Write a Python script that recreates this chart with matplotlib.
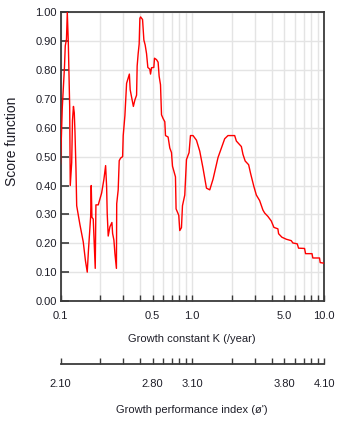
import matplotlib
matplotlib.use('Agg')
import matplotlib.pyplot as plt
from matplotlib.ticker import FixedLocator, FixedFormatter, NullFormatter

plt.rcParams['font.family'] = ['Liberation Sans', 'DejaVu Sans']

# Growth constant K (/year) and score function values
K = [0.100, 0.101, 0.1032, 0.1054, 0.1072, 0.1087, 0.1110, 0.1126, 0.1146, 0.1160,
     0.1174, 0.1180, 0.1186, 0.1216, 0.1233, 0.1254, 0.1272, 0.1288, 0.1310, 0.1327,
     0.1405, 0.1488, 0.1547, 0.1596, 0.1630, 0.1653, 0.1694, 0.1711, 0.1732, 0.1772,
     0.1803, 0.1835, 0.1857, 0.1934, 0.2052, 0.2136, 0.2200, 0.2239, 0.2262, 0.2302,
     0.2371, 0.2456, 0.2486, 0.2543, 0.2588, 0.2657, 0.2671, 0.2741, 0.2790, 0.2859,
     0.2961, 0.2992, 0.3082, 0.3174, 0.3263, 0.3332, 0.3379, 0.3462, 0.3573, 0.3668,
     0.3779, 0.3818, 0.3886, 0.3954, 0.4003, 0.4052, 0.4196, 0.4293, 0.4391, 0.4498,
     0.4602, 0.4764, 0.4823, 0.4908, 0.5108, 0.5171, 0.5355, 0.5507, 0.5604, 0.5742,
     0.5843, 0.6008, 0.6190, 0.6266, 0.6557, 0.6754, 0.6958, 0.7079, 0.7458, 0.7537,
     0.7901, 0.8040, 0.8282, 0.8429, 0.8774, 0.9039, 0.9458, 0.9692, 1.014, 1.076,
     1.140, 1.207, 1.282, 1.358, 1.438, 1.569, 1.665, 1.763, 1.867, 2.099,
     2.162, 2.359, 2.426, 2.521, 2.679, 2.775, 2.934, 3.065, 3.246, 3.439,
     3.542, 3.751, 3.981, 4.166, 4.467, 4.522, 4.789, 5.171, 5.644, 5.803,
     6.266, 6.410, 7.118, 7.243, 8.111, 8.225, 9.245, 9.358, 10.0]
score = [0.475, 0.540, 0.671, 0.746, 0.811, 0.884, 0.907, 1.000, 0.897, 0.790,
         0.674, 0.524, 0.400, 0.479, 0.626, 0.674, 0.652, 0.585, 0.460, 0.330,
         0.264, 0.205, 0.139, 0.100, 0.176, 0.218, 0.293, 0.400, 0.290, 0.284,
         0.198, 0.113, 0.333, 0.333, 0.374, 0.422, 0.469, 0.396, 0.304, 0.225,
         0.257, 0.272, 0.234, 0.211, 0.165, 0.113, 0.337, 0.385, 0.486, 0.495,
         0.500, 0.573, 0.642, 0.754, 0.772, 0.786, 0.732, 0.706, 0.674, 0.696,
         0.713, 0.814, 0.857, 0.890, 0.979, 0.984, 0.975, 0.904, 0.887, 0.857,
         0.809, 0.803, 0.786, 0.808, 0.809, 0.841, 0.836, 0.827, 0.779, 0.749,
         0.645, 0.632, 0.621, 0.573, 0.568, 0.530, 0.514, 0.467, 0.430, 0.319,
         0.297, 0.244, 0.254, 0.330, 0.367, 0.490, 0.514, 0.573, 0.573, 0.557,
         0.519, 0.460, 0.391, 0.385, 0.422, 0.497, 0.530, 0.562, 0.573, 0.573,
         0.554, 0.535, 0.508, 0.485, 0.472, 0.441, 0.397, 0.367, 0.348, 0.315,
         0.305, 0.293, 0.277, 0.255, 0.250, 0.233, 0.221, 0.214, 0.209, 0.201,
         0.198, 0.183, 0.182, 0.164, 0.164, 0.149, 0.149, 0.133, 0.131]

k_major = [0.1, 0.5, 1.0, 5.0, 10.0]
k_labels = ['0.1', '0.5', '1.0', '5.0', '10.0']
phi_labels = ['2.10', '2.80', '3.10', '3.80', '4.10']
k_minor = [0.2, 0.3, 0.4, 0.6, 0.7, 0.8, 0.9, 2, 3, 4, 6, 7, 8, 9]
y_ticks = [0.0, 0.1, 0.2, 0.3, 0.4, 0.5, 0.6, 0.7, 0.8, 0.9, 1.0]
y_labels = ['0.00', '0.10', '0.20', '0.30', '0.40', '0.50', '0.60', '0.70', '0.80', '0.90', '1.00']

W, H = 339, 422
spine_c = '#3a3a3a'
text_c = '#1e1e28'
grid_c = '#e4e4e4'

fig = plt.figure(figsize=(W / 100, H / 100), dpi=100)
x0, x1 = 60.5, 324
ytop, ybot = 12.3, 301
ax = fig.add_axes([x0 / W, 1 - ybot / H, (x1 - x0) / W, (ybot - ytop) / H])
ax.set_xscale('log')
ax.set_xlim(0.1, 10)
ax.set_ylim(0, 1)

ax.xaxis.set_major_locator(FixedLocator(k_major))
ax.xaxis.set_major_formatter(FixedFormatter(k_labels))
ax.xaxis.set_minor_locator(FixedLocator(k_minor))
ax.xaxis.set_minor_formatter(NullFormatter())
ax.set_yticks(y_ticks)
ax.set_yticklabels(y_labels)

ax.grid(True, which='both', axis='x', color=grid_c, lw=1.0)
ax.grid(True, which='major', axis='y', color=grid_c, lw=1.0)
ax.set_axisbelow(True)

ax.plot(K, score, color='#ff0000', lw=1.0, zorder=3, clip_on=True)

for s in ax.spines.values():
    s.set_color(spine_c)
    s.set_linewidth(1.3)

ax.tick_params(axis='y', which='major', direction='in', length=5.5, width=1.2,
               color=spine_c, labelsize=8, labelcolor=text_c, pad=2.5)
ax.tick_params(axis='x', which='both', direction='in', length=4.3, width=1.0,
               color=spine_c, labelsize=8, labelcolor=text_c, pad=7.5)

fig.text(12 / W, 1 - 141.5 / H, 'Score function', rotation=90, ha='center', va='center',
         fontsize=10, color=text_c)
fig.text((x0 + x1) / 2 / W, 1 - 339 / H, 'Growth constant K (/year)', ha='center',
         va='center', fontsize=8, color=text_c)

# secondary scale: growth performance index
yline = 364
ax2 = fig.add_axes([x0 / W, 1 - yline / H, (x1 - x0) / W, 0.02])
ax2.set_xscale('log')
ax2.set_xlim(0.1, 10)
ax2.set_ylim(0, 1)
ax2.patch.set_visible(False)
for side in ['left', 'right', 'top']:
    ax2.spines[side].set_visible(False)
ax2.spines['bottom'].set_color(spine_c)
ax2.spines['bottom'].set_linewidth(1.3)
ax2.set_yticks([])
ax2.xaxis.set_major_locator(FixedLocator(k_major))
ax2.xaxis.set_major_formatter(FixedFormatter(phi_labels))
ax2.xaxis.set_minor_locator(FixedLocator(k_minor))
ax2.xaxis.set_minor_formatter(NullFormatter())
ax2.tick_params(axis='x', which='both', direction='in', length=4.3, width=1.0,
                color=spine_c, labelsize=8, labelcolor=text_c, pad=10.5)

fig.text((x0 + x1) / 2 / W, 1 - 410 / H, "Growth performance index (ø')", ha='center',
         va='center', fontsize=8, color=text_c)

fig.savefig('out.png', dpi=100)
